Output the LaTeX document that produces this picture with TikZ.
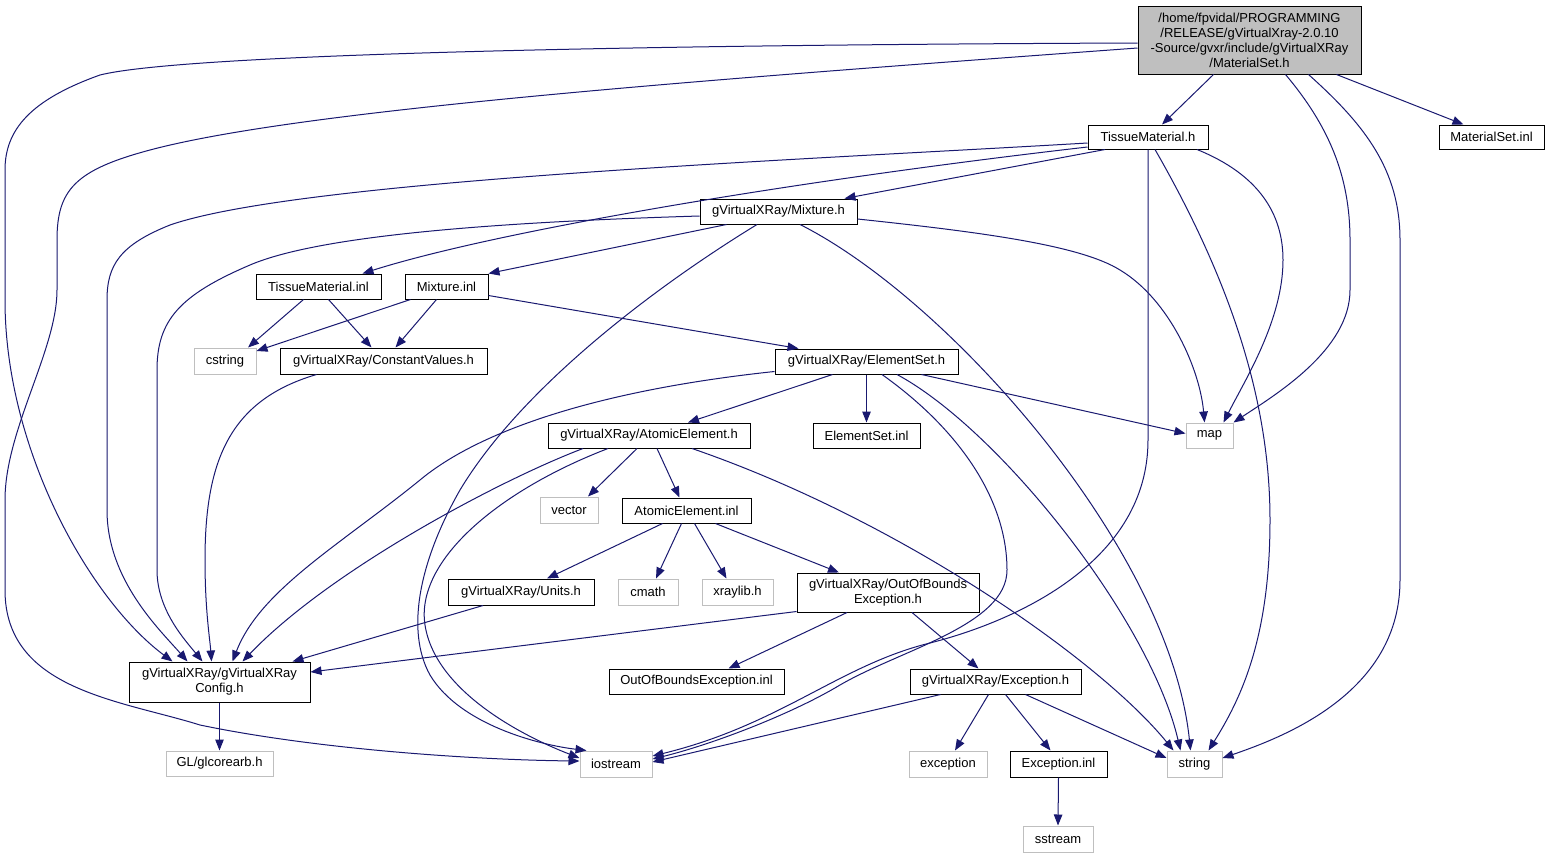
\documentclass[tikz,border=0pt]{standalone}
\usepackage{fontspec}
\setmainfont{Liberation Sans}
\usetikzlibrary{arrows.meta,calc}
\begin{document}
\begin{tikzpicture}[x=1pt,y=-1pt,
    docnode/.style={shape=rectangle,draw=black,line width=1pt,fill=white,inner sep=0pt,align=center,font=\fontsize{13}{15}\selectfont},
    extnode/.style={docnode,draw=extgray},
    dep/.style={draw=depblue,line width=1pt,-{Triangle[length=11pt,width=8.5pt]}}]
    \definecolor{depblue}{RGB}{25,25,112}
    \definecolor{extgray}{RGB}{191,191,191}
    \definecolor{rootfill}{RGB}{191,191,191}
    \useasboundingbox[fill=white] (0,0) rectangle (1550,857);
    % documented headers
    \node[docnode,fill=rootfill,minimum width=223,minimum height=68] (root) at (1249.5,40) {/home/fpvidal/PROGRAMMING\\/RELEASE/gVirtualXray-2.0.10\\-Source/gvxr/include/gVirtualXRay\\/MaterialSet.h};
    \node[docnode,minimum width=120,minimum height=24] (TM) at (1148,137) {TissueMaterial.h};
    \node[docnode,minimum width=105,minimum height=24] (MSinl) at (1491.5,137) {MaterialSet.inl};
    \node[docnode,minimum width=157,minimum height=25] (Mixh) at (778.5,211.5) {gVirtualXRay/Mixture.h};
    \node[docnode,minimum width=125,minimum height=25] (TMinl) at (318.5,286.5) {TissueMaterial.inl};
    \node[docnode,minimum width=83,minimum height=25] (Mixinl) at (446.5,286.5) {Mixture.inl};
    \node[docnode,minimum width=207,minimum height=26] (ConstVal) at (383.5,361) {gVirtualXRay/ConstantValues.h};
    \node[docnode,minimum width=183,minimum height=25] (ESh) at (866.5,361.5) {gVirtualXRay/ElementSet.h};
    \node[docnode,minimum width=202,minimum height=25] (AEh) at (649,435.5) {gVirtualXRay/AtomicElement.h};
    \node[docnode,minimum width=107,minimum height=25] (ESinl) at (866.5,435.5) {ElementSet.inl};
    \node[docnode,minimum width=129,minimum height=25] (AEinl) at (686.5,510.5) {AtomicElement.inl};
    \node[docnode,minimum width=146,minimum height=26] (Units) at (521,592) {gVirtualXRay/Units.h};
    \node[docnode,minimum width=182,minimum height=39] (OOBh) at (888,592.5) {gVirtualXRay/OutOfBounds\\Exception.h};
    \node[docnode,minimum width=181,minimum height=40] (Config) at (219.5,682) {gVirtualXRay/gVirtualXRay\\Config.h};
    \node[docnode,minimum width=175,minimum height=25] (OOBinl) at (696.5,681.5) {OutOfBoundsException.inl};
    \node[docnode,minimum width=171,minimum height=25] (Exch) at (995.5,681.5) {gVirtualXRay/Exception.h};
    \node[docnode,minimum width=97,minimum height=26] (Excinl) at (1058.5,764) {Exception.inl};
    % system headers
    \node[extnode,minimum width=62,minimum height=26] (cstring) at (225,361) {cstring};
    \node[extnode,minimum width=47,minimum height=25] (map) at (1209.5,435.5) {map};
    \node[extnode,minimum width=58,minimum height=26] (vector) at (569,510) {vector};
    \node[extnode,minimum width=60,minimum height=26] (cmath) at (648,592) {cmath};
    \node[extnode,minimum width=71,minimum height=26] (xraylib) at (737.5,592) {xraylib.h};
    \node[extnode,minimum width=107,minimum height=25] (GL) at (219.5,763.5) {GL/glcorearb.h};
    \node[extnode,minimum width=72,minimum height=26] (iostream) at (616,764) {iostream};
    \node[extnode,minimum width=78,minimum height=26] (exception) at (948,764) {exception};
    \node[extnode,minimum width=55,minimum height=26] (string) at (1194.5,764) {string};
    \node[extnode,minimum width=70,minimum height=26] (sstream) at (1058,839) {sstream};
    % MaterialSet.h
    \draw[dep] ($(root.south)+(-36,0)$) -- ($(TM.north)+(14,0)$);
    \draw[dep] ($(root.south)+(87,0)$) -- ($(MSinl.north)+(-28,0)$);
    \draw[dep] ($(root.south)+(36,0)$) .. controls (1328,125) and (1350,175) .. (1350,240) -- (1350,290) .. controls (1350,350) and (1275,395) .. (map.north east);
    \draw[dep] ($(root.south)+(59,0)$) .. controls (1365,125) and (1400,170) .. (1400,240) -- (1400,580) .. controls (1400,690) and (1290,735) .. ($(string.east)+(0,-6)$);
    \draw[dep] ($(root.west)+(0,3)$) .. controls (600,45) and (180,55) .. (100,75) .. controls (30,100) and (5,130) .. (5,170) -- (5,300) .. controls (5,450) and (90,600) .. ($(Config.north west)+(44,0)$);
    \draw[dep] ($(root.west)+(0,8)$) .. controls (700,80) and (300,110) .. (150,150) .. controls (75,170) and (57,190) .. (57,240) -- (57,290) .. controls (57,350) and (5,430) .. (5,500) -- (5,590) .. controls (5,690) and (120,700) .. (200,725) .. controls (320,750) and (480,760) .. ($(iostream.west)+(0,-3)$);
    % TissueMaterial.h
    \draw[dep] ($(TM.south)+(-43,0)$) -- ($(Mixh.north)+(66,0)$);
    \draw[dep] ($(TM.west)+(0,10)$) .. controls (800,180) and (500,230) .. ($(TMinl.north)+(44,0)$);
    \draw[dep] ($(TM.west)+(0,6)$) .. controls (800,160) and (300,180) .. (170,225) .. controls (120,245) and (107,265) .. (107,300) -- (107,510) .. controls (107,580) and (160,630) .. ($(Config.north west)+(59,0)$);
    \draw[dep] ($(TM.south)+(49,0)$) .. controls (1260,175) and (1283,215) .. (1283,260) .. controls (1283,320) and (1245,380) .. ($(map.north)+(14,0)$);
    \draw[dep] ($(TM.south)+(7,0)$) .. controls (1230,280) and (1270,400) .. (1270,520) .. controls (1270,640) and (1240,700) .. ($(string.north east)+(-14,0)$);
    \draw[dep] (TM.south) -- (1148,440) .. controls (1148,560) and (1020,620) .. (930,643) .. controls (840,665) and (780,725) .. ($(iostream.east)+(0,-8)$);
    % Mixture.h
    \draw[dep] ($(Mixh.south)+(-52,0)$) -- (Mixinl.north east);
    \draw[dep] ($(Mixh.west)+(0,4.5)$) .. controls (500,222) and (320,235) .. (250,265) .. controls (180,295) and (157,320) .. (157,370) -- (157,570) .. controls (157,610) and (185,640) .. ($(Config.north west)+(74,0)$);
    \draw[dep] ($(Mixh.south)+(-21.5,0)$) .. controls (650,290) and (520,390) .. (460,490) .. controls (420,560) and (405,630) .. (430,675) .. controls (460,725) and (540,745) .. ($(iostream.north west)+(7,0)$);
    \draw[dep] ($(Mixh.south)+(21.5,0)$) .. controls (950,300) and (1170,550) .. ($(string.north)+(-4,0)$);
    \draw[dep] ($(Mixh.east)+(0,7.5)$) .. controls (980,232) and (1080,245) .. (1120,270) .. controls (1170,300) and (1200,370) .. ($(map.north)+(-5,0)$);
    % Mixture.inl, TissueMaterial.inl, ConstantValues.h
    \draw[dep] ($(Mixinl.south)+(-36,0)$) -- ($(cstring.east)+(0,-10)$);
    \draw[dep] ($(Mixinl.south)+(-10,0)$) -- ($(ConstVal.north)+(12,0)$);
    \draw[dep] ($(Mixinl.east)+(0,9)$) -- ($(ESh.north)+(-68,0)$);
    \draw[dep] ($(TMinl.south)+(-15,0)$) -- ($(cstring.north)+(23,0)$);
    \draw[dep] ($(TMinl.south)+(10,0)$) -- ($(ConstVal.north)+(-12,0)$);
    \draw[dep] ($(ConstVal.south)+(-67,0)$) .. controls (230,400) and (205,460) .. (205,560) .. controls (205,610) and (210,640) .. ($(Config.north west)+(83,0)$);
    % ElementSet.h
    \draw[dep] ($(ESh.south)+(-34,0)$) -- ($(AEh.north)+(39,0)$);
    \draw[dep] (ESh.south) -- (ESinl.north);
    \draw[dep] ($(ESh.south)+(55,0)$) -- ($(map.west)+(0,-2)$);
    \draw[dep] ($(ESh.west)+(0,10)$) .. controls (600,390) and (480,430) .. (420,480) .. controls (340,545) and (260,590) .. ($(Config.north west)+(104,0)$);
    \draw[dep] ($(ESh.south)+(15.5,0)$) .. controls (960,430) and (1007,500) .. (1007,570) .. controls (1007,625) and (900,650) .. (840,685) .. controls (790,715) and (710,745) .. ($(iostream.east)+(0,-5)$);
    \draw[dep] ($(ESh.south)+(30.5,0)$) .. controls (1000,430) and (1150,620) .. ($(string.north)+(-14,0)$);
    % AtomicElement.h
    \draw[dep] ($(AEh.south)+(-12,0)$) -- ($(vector.north)+(19,0)$);
    \draw[dep] ($(AEh.south)+(8,0)$) -- ($(AEinl.north)+(-7,0)$);
    \draw[dep] ($(AEh.south)+(-66,0)$) .. controls (500,480) and (330,570) .. ($(Config.north west)+(114,0)$);
    \draw[dep] ($(AEh.south)+(-41,0)$) .. controls (500,490) and (415,560) .. (425,625) .. controls (435,690) and (520,735) .. ($(iostream.west)+(0,-6)$);
    \draw[dep] ($(AEh.south)+(43,0)$) .. controls (900,520) and (1100,660) .. ($(string.north)+(-21,0)$);
    % AtomicElement.inl
    \draw[dep] ($(AEinl.south)+(-24,0)$) -- ($(Units.north)+(26,0)$);
    \draw[dep] ($(AEinl.south)+(-5,0)$) -- ($(cmath.north)+(8,0)$);
    \draw[dep] ($(AEinl.south)+(8,0)$) -- ($(xraylib.north)+(-11,0)$);
    \draw[dep] ($(AEinl.south)+(29,0)$) -- ($(OOBh.north)+(-49,0)$);
    % Units.h, OutOfBoundsException.h
    \draw[dep] ($(Units.south)+(-38,0)$) -- ($(Config.north east)+(-18,0)$);
    \draw[dep] ($(OOBh.west)+(0,19)$) -- ($(Config.east)+(0,-10)$);
    \draw[dep] ($(OOBh.south)+(-41,0)$) -- ($(OOBinl.north)+(32,0)$);
    \draw[dep] ($(OOBh.south)+(24,0)$) -- ($(Exch.north)+(-17,0)$);
    % Exception.h
    \draw[dep] ($(Exch.south)+(-55,0)$) -- ($(iostream.east)+(0,-2)$);
    \draw[dep] ($(Exch.south)+(-7,0)$) -- ($(exception.north)+(7,0)$);
    \draw[dep] ($(Exch.south)+(10,0)$) -- ($(Excinl.north)+(-8,0)$);
    \draw[dep] ($(Exch.south)+(30,0)$) -- ($(string.west)+(0,-6)$);
    \draw[dep] (Excinl.south) -- (sstream.north);
    \draw[dep] (Config.south) -- (GL.north);
\end{tikzpicture}
\end{document}
